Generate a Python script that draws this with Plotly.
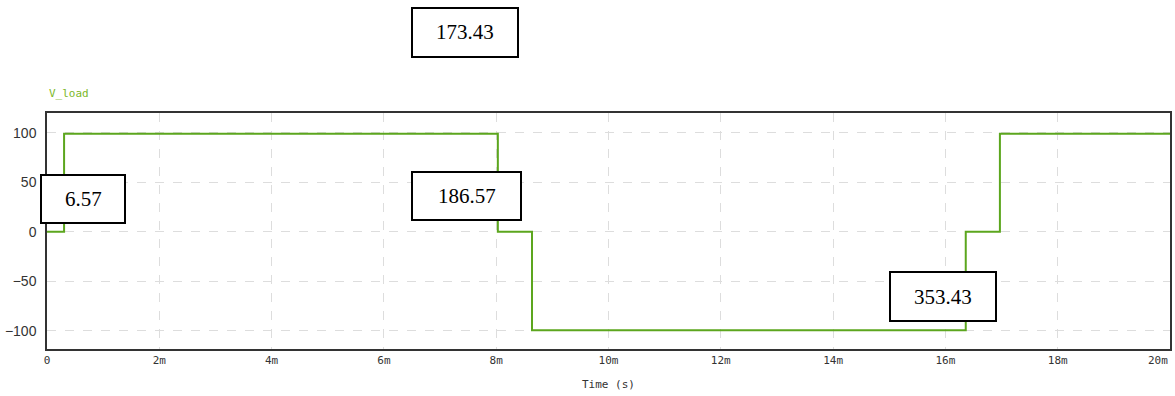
import plotly.graph_objects as go

# Inverter output: quasi-square wave on a 60 Hz fundamental
f_fund = 60.0
switch_angles = [6.57, 173.43, 186.57, 353.43, 366.57]   # degrees
step_levels = [99.0, 0.0, -99.5, 0.0, 99.0]              # level after each switching edge
v_start = 0.0
t_end = 0.020

x_ticks = [i * 2 / 1000 for i in range(11)]
x_tick_text = ["0"] + [f"{i * 2}m" for i in range(1, 11)]
y_ticks = [-100, -50, 0, 50, 100]

box_labels = ["6.57", "173.43", "186.57", "353.43"]

# Build the step trace from the switching edges
t = [0.0]
v = [v_start]
for ang, lvl in zip(switch_angles, step_levels):
    t.append(ang / 360.0 / f_fund)
    v.append(lvl)
t.append(t_end)
v.append(step_levels[-1])

fig = go.Figure()
fig.add_trace(go.Scatter(
    x=t, y=v, mode="lines", line=dict(color="#5ca61e", width=2, shape="hv"),
    name="V_load", showlegend=False, hoverinfo="skip",
))

W, H = 1175, 396
L, R, T, B = 47, 5, 113, 47
pw, ph = W - L - R, H - T - B


def px(x):
    return (x - L) / pw


def py(y):
    return (H - B - y) / ph


# Angle call-out boxes (pixel rectangles: x0, y0, x1, y1)
box_rects = [
    (41, 175, 125, 223),
    (412, 8, 518, 57),
    (412, 172, 521, 220),
    (890, 272, 996, 321),
]
for text, (x0, y0, x1, y1) in zip(box_labels, box_rects):
    fig.add_shape(type="rect", xref="paper", yref="paper",
                  x0=px(x0), x1=px(x1), y0=py(y1), y1=py(y0),
                  line=dict(color="black", width=2), fillcolor="white", layer="above")
    fig.add_annotation(xref="paper", yref="paper",
                       x=px((x0 + x1) / 2), y=py((y0 + y1) / 2),
                       text=text, showarrow=False,
                       font=dict(family="Liberation Serif", size=21, color="black"),
                       xanchor="center", yanchor="middle")

# Signal name above the plot
fig.add_annotation(xref="paper", yref="paper", x=px(47), y=py(93),
                   text="V_load", showarrow=False, xanchor="left", yanchor="middle",
                   font=dict(family="DejaVu Sans Mono", size=11, color="#7cb82a"))

tick_font = dict(family="DejaVu Sans Mono", size=11, color="#333333")

# Last time label sits flush with the right edge of the plot
fig.add_annotation(xref="x", yref="paper", x=x_ticks[-1], y=py(360),
                   text=x_tick_text[-1], showarrow=False,
                   xanchor="right", yanchor="middle", font=tick_font)

fig.update_layout(
    width=W, height=H,
    margin=dict(l=L, r=R, t=T, b=B),
    paper_bgcolor="white", plot_bgcolor="white",
    xaxis=dict(
        range=[0, t_end], tickvals=x_ticks, ticktext=x_tick_text[:-1] + [""],
        showgrid=True, gridcolor="#dddddd", griddash="dash", gridwidth=1,
        zeroline=False, showline=True, linecolor="#333333", linewidth=1.5, mirror=True,
        ticks="", automargin=False, tickfont=tick_font,
        title=dict(text="Time (s)", standoff=14,
                   font=dict(family="DejaVu Sans Mono", size=11, color="#333333")),
    ),
    yaxis=dict(
        range=[-118.5, 120], tickvals=y_ticks, automargin=False,
        showgrid=True, gridcolor="#dddddd", griddash="dash", gridwidth=1,
        zeroline=False, showline=True, linecolor="#333333", linewidth=1.5, mirror=True,
        ticks="", ticklabelstandoff=6,
        tickfont=dict(family="Liberation Sans", size=14, color="#333333"),
    ),
)

fig.write_html("out.html")
